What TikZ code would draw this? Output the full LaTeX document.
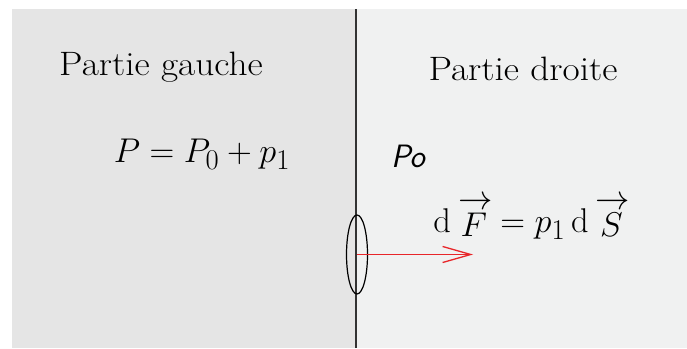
\documentclass[tikz,border=0pt]{standalone}
\usetikzlibrary{arrows.meta}
\definecolor{grisgauche}{RGB}{229,229,229}
\definecolor{grisdroite}{RGB}{240,241,241}
\definecolor{rougeforce}{RGB}{232,38,42}
\newcommand{\vecteur}[1]{\mathord{\mathop{{#1}}\limits^{\textstyle\rightarrow}}}
\begin{document}
\begin{tikzpicture}[x=1pt, y=1pt, >={Straight Barb[length=28pt,width=16pt]},
    titre/.style={font=\Huge, xscale=1.5, yscale=1.36, transform shape, anchor=base, inner sep=0pt},
    texte/.style={font=\Huge, scale=1.3, transform shape, anchor=base, inner sep=0pt},
    formule/.style={font=\Huge, scale=1.38, transform shape, anchor=base, inner sep=0pt}]
    \useasboundingbox (0,0) rectangle (687,348);
    % Les deux parties du fluide
    \fill[grisgauche] (12,0) rectangle (356,339);
    \fill[grisdroite] (356,0) rectangle (687,339);
    \draw[line width=1.5pt, black!80] (356,0) -- (356,339);
    
    % Titres
    \node[titre] (gauche) at (161,272.3) {Partie gauche};
    \node[titre] (droite) at (523,267) {Partie droite};
    
    % Pressions
    \node[formule] (pgauche) at (202,185) {$P = P_0 + p_1$};
    \node[texte] (pdroite) at (408,180) {\sffamily\itshape Po};
    
    % Element de surface et force
    \coordinate (dS) at (357,93.5);
    \coordinate (bout) at (473,93.5);
    \draw[line width=1.2pt] (dS) ellipse (10.5 and 39.5);
    \draw[->, rougeforce, line width=1.3pt] (dS) -- (bout);
    \node[formule] (force) at (531,115) {$\mathrm{d}\,\vecteur{F} = p_1\,\mathrm{d}\,\vecteur{S}$};
\end{tikzpicture}
\end{document}
